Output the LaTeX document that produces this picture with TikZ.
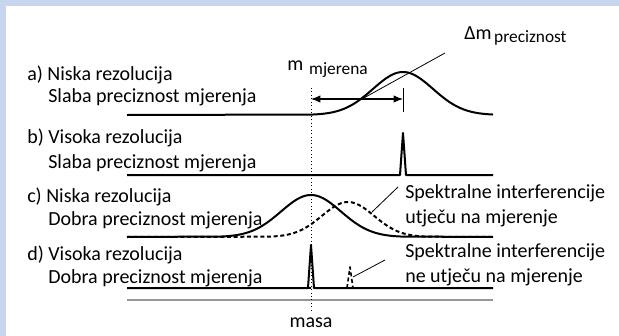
\documentclass[tikz,border=0pt]{standalone}
\usepackage{fontspec}
\setmainfont{Carlito}
\usetikzlibrary{arrows.meta}
\definecolor{frameblue}{RGB}{198,214,236}
\definecolor{axisgray}{RGB}{150,150,150}
\begin{document}
\begin{tikzpicture}[
    x=0.75pt, y=-0.75pt,
    >=Latex,
    txt/.style={anchor=base west, inner sep=0pt, font=\fontsize{15}{18}\selectfont},
    curve/.style={line width=1.5pt, line join=round},
    interf/.style={curve, dash pattern=on 3pt off 2pt},
    leader/.style={line width=0.6pt},
    dimarrow/.style={<->, line width=0.8pt, >={Latex[length=7pt, width=5.5pt]}}
]
% frame
\fill[frameblue] (0,0) rectangle (619,336);
\fill[white] (6,6) rectangle (619,336);
\useasboundingbox (0,0) rectangle (619,336);

% labels on the left
\node[txt] (alabel) at (27,80) {a) Niska rezolucija};
\node[txt] (aprec) at (48,102) {Slaba preciznost mjerenja};
\node[txt] (blabel) at (27,143) {b) Visoka rezolucija};
\node[txt] (bprec) at (48,168) {Slaba preciznost mjerenja};
\node[txt] (clabel) at (27,202) {c) Niska rezolucija};
\node[txt] (cprec) at (48,225) {Dobra preciznost mjerenja};
\node[txt] (dlabel) at (27,260) {d) Visoka rezolucija};
\node[txt] (dprec) at (48,283) {Dobra preciznost mjerenja};

% labels on the right
\node[txt] (cinterf) at (405,198) {Spektralne interferencije};
\node[txt] (cinterftwo) at (405,223) {utječu na mjerenje};
\node[txt] (dinterf) at (405,257) {Spektralne interferencije};
\node[txt] (dinterftwo) at (405,282) {ne utječu na mjerenje};
\node[txt] (mmjer) at (287,70) {m\hspace{4.5pt}\raisebox{-3pt}{\fontsize{13}{15}\selectfont mjerena}};
\node[txt] (dmprec) at (464,39) {Δm\hspace{2pt}\raisebox{-2.5pt}{\fontsize{13}{15}\selectfont preciznost}};
\node[txt, anchor=base] (masa) at (311,327) {masa};

% mass axis and true mass
\draw[axisgray, line width=1.5pt] (127,300) -- (493,300);
\coordinate (truetop) at (311,88);
\coordinate (truebot) at (311,310);
\draw[dotted, line width=0.6pt] (truetop) -- (truebot);

% a) broad peak, shifted
\draw[curve] (127,115) -- plot[domain=313:493, samples=80] (\x, {115-43*exp(-0.5*((\x-403)/30)^2)});
\coordinate (measl) at (311,99);
\coordinate (measr) at (403,99);
\draw[line width=0.6pt] (403,88) -- (403,112);
\draw[dimarrow] (measl) -- (measr);
\coordinate (dmfoot) at (362,99);
\coordinate (dmtip) at (445,53);
\draw[leader] (dmfoot) -- (dmtip);

% b) narrow peak, shifted
\draw[curve] (127,175) -- (400,175) -- (403,133) -- (406,175) -- (493,175);

% c) broad peak with interference
\draw[curve] (127,237) -- plot[domain=221:401, samples=80] (\x, {237-42*exp(-0.5*((\x-311)/30)^2)}) -- (493,237);
\draw[interf] (127,237) -- plot[domain=268:428, samples=80] (\x, {237-35*exp(-0.5*((\x-348)/26)^2)}) -- (493,237);
\coordinate (cfoot) at (372,212);
\coordinate (ctip) at (398,187);
\draw[leader] (cfoot) -- (ctip);

% d) narrow peak, interference separated
\draw[curve] (127,288) -- (308,288) -- (311,245) -- (314,288) -- (493,288);
\draw[interf, line width=1.2pt] (127,288) -- (347,288) -- (350,267) -- (353,288) -- (425,288);
\coordinate (dfoot) at (353,277);
\coordinate (dtip) at (385,260);
\draw[leader] (dfoot) -- (dtip);
\end{tikzpicture}
\end{document}
